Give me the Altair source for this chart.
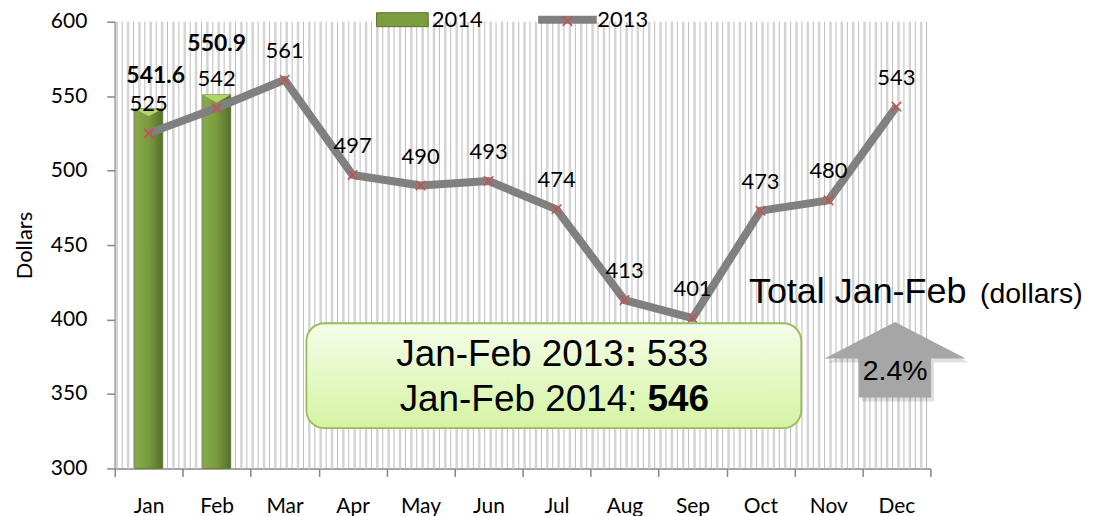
import altair as alt
import pandas as pd

# ---------------- data ----------------
months = ["Jan", "Feb", "Mar", "Apr", "May", "Jun", "Jul", "Aug", "Sep", "Oct", "Nov", "Dec"]
values_2013 = [525, 542, 561, 497, 490, 493, 474, 413, 401, 473, 480, 543]
months_2014 = ["Jan", "Feb"]
values_2014 = [541.6, 550.9]

box_lines = ["Jan-Feb 2013", ":", "533", "Jan-Feb 2014:", "546"]
title_main = "Total Jan-Feb"
title_unit = "(dollars)"
change_label = "2.4%"

# month position on a continuous month axis (band centre)
df13 = pd.DataFrame({"m": [months.index(m) + 0.5 for m in months], "v": values_2013,
                     "series": "2013", "mk": "2013 "})
df14 = pd.DataFrame({"m": [months.index(m) + 0.5 for m in months_2014], "v": values_2014,
                     "series": "2014"})

# decorative vertical stripe pattern (background texture), in month units
stripe_pos = [i / 6 for i in range(0, 72)]
df_thick = pd.DataFrame({"m": [p + 0.03 for p in stripe_pos]})
df_thin = pd.DataFrame({"m": [p + 0.11 for p in stripe_pos]})

# annotation placement (in month units / dollars)
df_box = pd.DataFrame({"m": [2.82], "m2": [10.1], "v": [397.5], "v2": [327.0]})
df_txt = pd.DataFrame({
    "m": [7.49, 7.49, 7.49, 7.69, 7.69],
    "v": [368.5, 368.5, 368.5, 338.8, 338.8],
    "t": box_lines,
})
df_arrow = pd.DataFrame({"m": [11.48], "v": [373.0]})
df_pct = pd.DataFrame({"m": [11.48], "v": [359.6], "t": [change_label]})
df_tot = pd.DataFrame({"m": [9.33, 12.73], "v": [411.4, 411.4], "t": [title_main, title_unit]})

FONT = "Lato"
AFONT = "Liberation Sans"
W, H = 818, 448
AX = "#868686"

yscale = alt.Scale(domain=[300, 600], zero=False, nice=False, padding=0)
xscale = alt.Scale(domain=[0, 12], nice=False, zero=False, padding=0)

month_js = "[" + ",".join("'%s'" % m for m in months) + ",'']"

X_AXIS = alt.Axis(title=None, values=list(range(0, 13)), labelExpr=month_js + "[datum.value]",
                  labelOffset=34, labelAngle=0, tickSize=8, labelFontSize=21, labelFont=FONT,
                  labelColor="#000", labelPadding=19, domainColor=AX, tickColor=AX,
                  domainWidth=1.5, tickWidth=1.5, grid=False, labelFlush=False,
                  labelOverlap=False, labelBound=False)
Y_AXIS = alt.Axis(title="Dollars", values=[300, 350, 400, 450, 500, 550, 600],
                  grid=False, tickSize=8, labelFontSize=21, labelFont=FONT,
                  labelColor="#000", labelPadding=20, titleFont=FONT,
                  titleFontSize=22, titleFontWeight="normal", titleColor="#000",
                  titlePadding=14, domainColor=AX, tickColor=AX,
                  domainWidth=1.5, tickWidth=1.5, labelFlush=False)


def X(f="m:Q"):
    return alt.X(f, scale=xscale, axis=X_AXIS)


def Y(f="v:Q"):
    return alt.Y(f, scale=yscale, axis=Y_AXIS)


# ---------------- stripes ----------------
thick = alt.Chart(df_thick).mark_rule(color="#d4d4d4", strokeWidth=2.5).encode(x=X())
thin = alt.Chart(df_thin).mark_rule(color="#bcbcbc", strokeWidth=1).encode(x=X())

# ---------------- bars 2014 ----------------
bar_grad = alt.Gradient(
    gradient="linear", x1=0, x2=1, y1=0, y2=0,
    stops=[alt.GradientStop(offset=0, color="#88ab4b"),
           alt.GradientStop(offset=0.5, color="#799b3d"),
           alt.GradientStop(offset=1, color="#566f2b")])

bars = alt.Chart(df14).mark_bar(size=28, fill=bar_grad, stroke="#5a732c", strokeWidth=0.8).encode(
    x=X(), y=Y(), y2=alt.datum(300))

bevel = alt.Chart(df14).mark_point(
    shape="M-1,0L1,0L0,0.55Z", filled=True, color="#b3d36c", size=784, opacity=1).encode(
    x=X(), y=Y())

LEG = dict(orient="none", title=None, padding=0, labelFont=FONT, labelFontSize=22,
           labelColor="#000", symbolSize=196)

bar_legend = alt.Chart(df14).mark_point(filled=True).encode(
    fill=alt.Fill("series:N", scale=alt.Scale(domain=["2014"], range=["#7c9d3f"]),
                  legend=alt.Legend(legendX=277.5, legendY=-13,
                                    symbolType="M-3.7,-1L3.7,-1L3.7,1L-3.7,1Z",
                                    symbolStrokeColor="#5a732c", symbolStrokeWidth=1,
                                    symbolOpacity=1, labelOffset=18.5, **LEG))
).transform_filter("false")

# ---------------- line 2013 ----------------
line = alt.Chart(df13).mark_line(strokeWidth=8, strokeJoin="round").encode(
    x=X(), y=Y(),
    stroke=alt.Stroke("series:N", scale=alt.Scale(domain=["2013"], range=["#808080"]),
                      legend=alt.Legend(legendX=443, legendY=-13, symbolType="M-4.2,0L4.2,0",
                                        symbolStrokeWidth=8, symbolFillColor="transparent",
                                        labelOffset=19, **LEG)),
)

xpath = "M-1,-1L1,1M1,-1L-1,1"
markers = alt.Chart(df13).mark_point(filled=False, stroke="#c8504d", strokeWidth=1.6, size=90,
                                     opacity=1).encode(
    x=X(), y=Y(),
    shape=alt.Shape("mk:N", scale=alt.Scale(domain=["2013 "], range=[xpath]),
                    legend=alt.Legend(orient="none", legendX=448, legendY=-6.5, title=None,
                                      symbolStrokeColor="#c8504d", symbolStrokeWidth=1.6,
                                      symbolSize=90, symbolFillColor="transparent",
                                      labelExpr="''", padding=0, labelFontSize=1)),
)

lab13 = alt.Chart(df13).mark_text(dy=-29, fontSize=22, font=FONT, color="#000").encode(
    x=X(), y=Y(), text=alt.Text("v:Q", format="d"))

lab14_jan = alt.Chart(df14).transform_filter(alt.datum.m < 1).mark_text(
    dy=-33, dx=7, fontSize=23, font=FONT, fontWeight="bold", color="#000").encode(
    x=X(), y=Y(), text=alt.Text("v:Q", format=".1f"))
lab14_feb = alt.Chart(df14).transform_filter(alt.datum.m > 1).mark_text(
    dy=-51, fontSize=23, font=FONT, fontWeight="bold", color="#000").encode(
    x=X(), y=Y(), text=alt.Text("v:Q", format=".1f"))

# ---------------- annotations ----------------
box_grad = alt.Gradient(
    gradient="linear", x1=0, x2=0, y1=0, y2=1,
    stops=[alt.GradientStop(offset=0, color="#f5fde9"),
           alt.GradientStop(offset=1, color="#d5f3a2")])

box_shadow = alt.Chart(df_box).mark_rect(cornerRadius=18, color="#000", opacity=0.13,
                                         xOffset=3, yOffset=4).encode(
    x=X(), x2="m2:Q", y=Y(), y2="v2:Q")
box = alt.Chart(df_box).mark_rect(cornerRadius=18, fill=box_grad, stroke="#9bbb59",
                                  strokeWidth=1.8).encode(
    x=X(), x2="m2:Q", y=Y(), y2="v2:Q")


def seg(idx, align, bold, dx):
    d = df_txt.iloc[[idx]]
    return alt.Chart(d).mark_text(align=align, baseline="alphabetic", dx=dx, fontSize=37,
                                  font=AFONT, fontWeight="bold" if bold else "normal",
                                  color="#000").encode(x=X(), y=Y(), text="t:N")


texts = [seg(0, "right", False, 0), seg(1, "left", True, 1), seg(2, "left", False, 23),
         seg(3, "right", False, 0), seg(4, "left", True, 10)]

arrow_path = "M0,-0.534L1,-0.017L0.511,-0.017L0.511,0.534L-0.511,0.534L-0.511,-0.017L-1,-0.017Z"
arrow_shadow = alt.Chart(df_arrow).mark_point(shape=arrow_path, filled=True, color="#000",
                                              opacity=0.12, size=20050, xOffset=3,
                                              yOffset=4).encode(x=X(), y=Y())
arrow = alt.Chart(df_arrow).mark_point(shape=arrow_path, filled=True, color="#a6a6a6",
                                       opacity=1, size=20050).encode(x=X(), y=Y())
pct = alt.Chart(df_pct).mark_text(fontSize=28.5, font=AFONT, baseline="alphabetic",
                                  color="#000").encode(x=X(), y=Y(), text="t:N")

tot1 = alt.Chart(df_tot.iloc[[0]]).mark_text(fontSize=36, font=AFONT, align="left",
                                              baseline="alphabetic", color="#000").encode(
    x=X(), y=Y(), text="t:N")
tot2 = alt.Chart(df_tot.iloc[[1]]).mark_text(fontSize=28.5, font=AFONT, align="left",
                                              baseline="alphabetic", color="#000").encode(
    x=X(), y=Y(), text="t:N")

chart = alt.layer(
    thick, thin, bars, bevel, bar_legend, line, markers, lab13, lab14_jan, lab14_feb,
    box_shadow, box, *texts, arrow_shadow, arrow, pct, tot1, tot2,
).properties(
    width=W, height=H,
    padding={"left": 5, "top": 0, "right": 5, "bottom": 5},
    background="white",
).configure_view(stroke=None)

chart.save("out.html", embed_options={"renderer": "svg", "actions": False})
